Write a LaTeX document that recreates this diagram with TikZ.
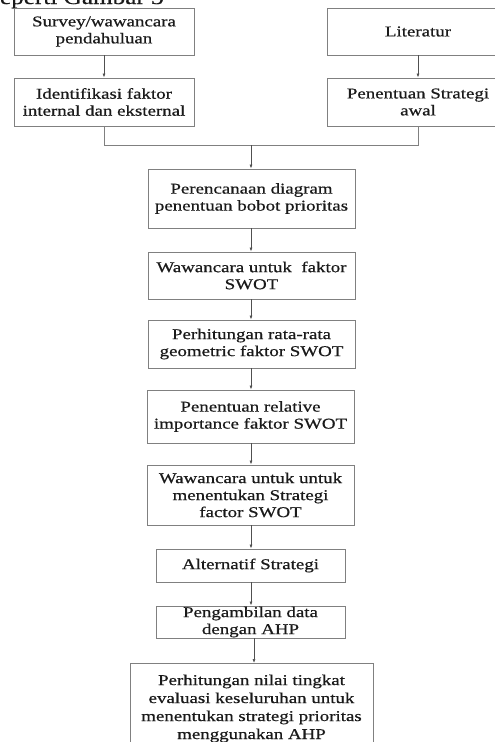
\documentclass[tikz,border=0pt]{standalone}
\usepackage{fontspec}
\setmainfont{Liberation Serif}[FakeStretch=1.26,FakeBold=0.6]
\usetikzlibrary{arrows.meta}
\definecolor{boxline}{HTML}{808080}
\definecolor{arrowline}{HTML}{505050}
\definecolor{txt}{HTML}{1A1A1A}
\tikzset{
  box/.style={draw=boxline, line width=0.9pt, fill=white, align=center, inner sep=0pt,
    text=txt, font=\fontsize{15}{17}\selectfont},
  conn/.style={draw=boxline, line width=0.9pt},
  arr/.style={draw=arrowline, line width=0.7pt, -{Latex[length=4pt,width=3pt]}},
}
\begin{document}
\begin{tikzpicture}[x=1pt,y=-1pt]
\useasboundingbox (0,0) rectangle (495,742);
\clip (0,0) rectangle (495,742);
\fill[white] (0,0) rectangle (495,742);
% cut-off heading text
\node[anchor=base west, inner sep=0pt, text=txt, font=\fontsize{20}{22}\selectfont] (head) at (-10,4) {seperti Gambar 3};
% left column
\node[box, minimum width=180, minimum height=47] (s1) at (104,31.5) {Survey/wawancara\\pendahuluan};
\node[box, minimum width=180, minimum height=48] (s2) at (104,102) {Identifikasi faktor\\internal dan eksternal};
% right column
\node[box, minimum width=182, minimum height=47] (l1) at (418,31.5) {Literatur};
\node[box, minimum width=182, minimum height=48] (l2) at (418,102) {Penentuan Strategi\\awal};
% main column
\node[box, minimum width=207, minimum height=59] (b5) at (251.5,198.5) {Perencanaan diagram\\penentuan bobot prioritas};
\node[box, minimum width=207, minimum height=47] (b6) at (251.5,275.5) {Wawancara untuk~ faktor\\SWOT};
\node[box, minimum width=207, minimum height=48] (b7) at (251.5,344) {Perhitungan rata-rata\\geometric faktor SWOT};
\node[box, minimum width=207, minimum height=53] (b8) at (250.5,416.5) {Penentuan relative\\importance faktor SWOT};
\node[box, minimum width=207, minimum height=60] (b9) at (250.5,495) {Wawancara untuk untuk\\menentukan Strategi\\factor SWOT};
\node[box, minimum width=189, minimum height=33] (b10) at (250.5,565.5) {Alternatif Strategi};
\node[box, minimum width=189, minimum height=32] (b11) at (250.5,622) {Pengambilan data\\dengan AHP};
\node[box, minimum width=243, minimum height=90, anchor=north,
  font=\fontsize{15}{18}\selectfont] (b12) at (251.5,663) {Perhitungan nilai tingkat\\evaluasi keseluruhan untuk\\menentukan strategi prioritas\\menggunakan AHP};
% connectors
\coordinate (jl) at (104,145);
\coordinate (jr) at (418,145);
\coordinate (jm) at (251,145);
\draw[arr] (s1) -- (s2);
\draw[arr] (l1) -- (l2);
\draw[conn] (s2.south) -- (jl) -- (jr) -- (l2.south);
\draw[arr] (jm) -- (jm |- b5.north);
\draw[arr] (251,0 |- b5.south) -- (251,0 |- b6.north);
\draw[arr] (251,0 |- b6.south) -- (251,0 |- b7.north);
\draw[arr] (251,0 |- b7.south) -- (251,0 |- b8.north);
\draw[arr] (251,0 |- b8.south) -- (251,0 |- b9.north);
\draw[arr] (251,0 |- b9.south) -- (251,0 |- b10.north);
\draw[arr] (251,0 |- b10.south) -- (251,0 |- b11.north);
\draw[arr] (254,0 |- b11.south) -- (254,0 |- b12.north);
\end{tikzpicture}
\end{document}
